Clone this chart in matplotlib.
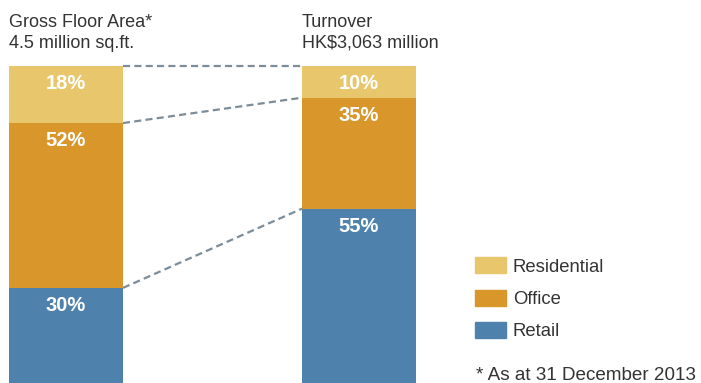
import numpy as np
import matplotlib
matplotlib.use("Agg")
import matplotlib.pyplot as plt

plt.rcParams['font.family'] = ['Liberation Sans', 'DejaVu Sans']

# data
segments = ['Retail', 'Office', 'Residential']
gfa_share = [30, 52, 18]
turnover_share = [55, 35, 10]
colors = {'Residential': '#E8C66C', 'Office': '#D9962B', 'Retail': '#4E81AC'}
legend_order = ['Residential', 'Office', 'Retail']
titles = ['Gross Floor Area*\n4.5 million sq.ft.', 'Turnover\nHK$3,063 million']
footnote = '* As at 31 December 2013'

W, H = 701, 383
fig = plt.figure(figsize=(W / 100, H / 100), dpi=100)
top_px = 66
ax = fig.add_axes([0, 0, 1, (H - top_px) / H])
unit = 293.0
bw = 114 / unit
ax.set_xlim(-66 / unit, 1 + (W - 359) / unit)
ax.set_ylim(0, 100)
ax.axis('off')

stacks = [gfa_share, turnover_share]
for i, vals in enumerate(stacks):
    bottom = 0
    for seg, v in zip(segments, vals):
        ax.bar(i, v, bottom=bottom, width=bw, color=colors[seg], zorder=2)
        ax.text(i, bottom + v - 5.6, f'{v}%', ha='center', va='center',
                color='white', fontsize=14.5, fontweight='bold', zorder=3)
        bottom += v

# dashed connectors between the two bars
left_levels = np.cumsum(gfa_share)
right_levels = np.cumsum(turnover_share)
for a, b in zip(left_levels, right_levels):
    ax.plot([bw / 2, 1 - bw / 2], [a, b], color='#7C8C98', lw=1.6,
            dashes=(3.2, 1.9), zorder=1, clip_on=False)

# titles above bars
for x_px, t in zip([9, 302], titles):
    fig.text(x_px / W, 1 - 14 / H, t, ha='left', va='top', fontsize=13,
             color='#333333', linespacing=1.3)

# legend
for k, seg in enumerate(legend_order):
    y_px = 265 + k * 32.5
    fig.patches.append(plt.Rectangle((475 / W, 1 - (y_px + 8) / H), 31 / W, 16 / H,
                                     transform=fig.transFigure, color=colors[seg]))
    fig.text(513 / W, 1 - (y_px + 2) / H, seg, ha='left', va='center', fontsize=13.3,
             color='#333333')

fig.text(476 / W, 1 - 375 / H, footnote, ha='left', va='center', fontsize=13.6,
         color='#333333')

fig.savefig('out.png', dpi=100)
